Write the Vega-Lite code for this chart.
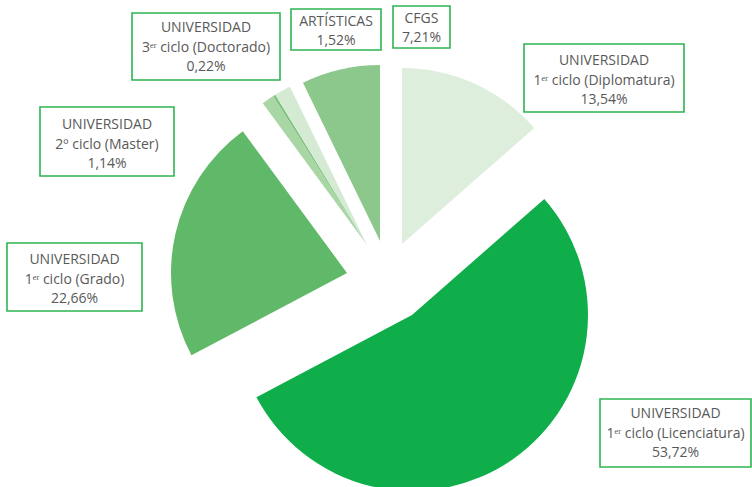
{
  "$schema": "https://vega.github.io/schema/vega-lite/v6.json",
  "width": 752,
  "height": 487,
  "padding": 0,
  "autosize": {"type": "none"},
  "background": "white",
  "config": {
    "view": {"stroke": null},
    "text": {"font": "Open Sans", "fontSize": 14, "color": "#595959"}
  },
  "data": {
    "values": [
      {"cat": "Diplomatura", "l1": "UNIVERSIDAD", "l2": "1ᵉʳ ciclo (Diplomatura)", "pct": 13.54, "order": 1},
      {"cat": "Licenciatura", "l1": "UNIVERSIDAD", "l2": "1ᵉʳ ciclo (Licenciatura)", "pct": 53.72, "order": 2},
      {"cat": "Grado", "l1": "UNIVERSIDAD", "l2": "1ᵉʳ ciclo (Grado)", "pct": 22.66, "order": 3},
      {"cat": "Master", "l1": "UNIVERSIDAD", "l2": "2º ciclo (Master)", "pct": 1.14, "order": 4},
      {"cat": "Doctorado", "l1": "UNIVERSIDAD", "l2": "3ᵉʳ ciclo (Doctorado)", "pct": 0.22, "order": 5},
      {"cat": "Artisticas", "l1": "ARTÍSTICAS", "l2": null, "pct": 1.52, "order": 6},
      {"cat": "CFGS", "l1": "CFGS", "l2": null, "pct": 7.21, "order": 7}
    ]
  },
  "transform": [
    {"stack": "pct", "groupby": [], "sort": [{"field": "order"}], "as": ["start", "end"]},
    {"calculate": "replace(format(datum.pct, '.2f'), '.', ',') + '%'", "as": "ptxt"},
    {"calculate": "datum.l2 ? [datum.l1, datum.l2, datum.ptxt] : [datum.l1, datum.ptxt]", "as": "label"}
  ],
  "encoding": {
    "color": {
      "field": "cat", "type": "nominal", "legend": null,
      "scale": {
        "domain": ["Diplomatura", "Licenciatura", "Grado", "Master", "Doctorado", "Artisticas", "CFGS"],
        "range": ["#ddeedd", "#0fae4b", "#60b968", "#a9d6a5", "#7cc27b", "#d5ead3", "#8cc78c"]
      }
    }
  },
  "layer": [
    {
      "transform": [{"filter": "datum.cat === 'Diplomatura'"}],
      "mark": {"type": "arc", "outerRadius": 176, "xOffset": 26, "yOffset": 0.5},
      "encoding": {
        "theta": {"field": "start", "type": "quantitative", "scale": {"domain": [0, 100.01], "range": [0, 6.283185]}},
        "theta2": {"field": "end"}
      }
    },
    {
      "transform": [{"filter": "datum.cat === 'Licenciatura'"}],
      "mark": {"type": "arc", "outerRadius": 176, "xOffset": 36, "yOffset": 71.5},
      "encoding": {
        "theta": {"field": "start", "type": "quantitative"},
        "theta2": {"field": "end"}
      }
    },
    {
      "transform": [{"filter": "datum.cat === 'Grado'"}],
      "mark": {"type": "arc", "outerRadius": 176, "xOffset": -29, "yOffset": 29.5},
      "encoding": {
        "theta": {"field": "start", "type": "quantitative"},
        "theta2": {"field": "end"}
      }
    },
    {
      "transform": [{"filter": "datum.cat === 'Master' || datum.cat === 'Doctorado' || datum.cat === 'Artisticas'"}],
      "mark": {"type": "arc", "outerRadius": 176, "xOffset": -9, "yOffset": 1.5},
      "encoding": {
        "theta": {"field": "start", "type": "quantitative"},
        "theta2": {"field": "end"}
      }
    },
    {
      "transform": [{"filter": "datum.cat === 'CFGS'"}],
      "mark": {"type": "arc", "outerRadius": 176, "xOffset": 4, "yOffset": -2.5},
      "encoding": {
        "theta": {"field": "start", "type": "quantitative"},
        "theta2": {"field": "end"}
      }
    },
    {
      "transform": [{"filter": "datum.cat === 'Diplomatura'"}],
      "layer": [
        {"mark": {"type": "rule", "x": 502, "y": 98, "x2": 524, "y2": 76, "color": "#1fb04f", "strokeWidth": 1.3}, "encoding": {}},
        {"mark": {"type": "rect", "x": 524, "y": 44, "x2": 684, "y2": 112, "fill": "white", "stroke": "#2eb551", "strokeWidth": 1.6}, "encoding": {}},
        {"mark": {"type": "text", "x": 604, "y": 61, "lineHeight": 19.5, "baseline": "middle", "align": "center"}, "encoding": {"text": {"field": "label"}, "color": {"value": "#595959"}}}
      ]
    },
    {
      "transform": [{"filter": "datum.cat === 'Licenciatura'"}],
      "layer": [
        {"mark": {"type": "rule", "x": 547, "y": 427, "x2": 600, "y2": 437, "color": "#1fb04f", "strokeWidth": 1.3}, "encoding": {}},
        {"mark": {"type": "rect", "x": 600, "y": 399, "x2": 751, "y2": 467, "fill": "white", "stroke": "#2eb551", "strokeWidth": 1.6}, "encoding": {}},
        {"mark": {"type": "text", "x": 675.5, "y": 414, "lineHeight": 19.5, "baseline": "middle", "align": "center"}, "encoding": {"text": {"field": "label"}, "color": {"value": "#595959"}}}
      ]
    },
    {
      "transform": [{"filter": "datum.cat === 'Grado'"}],
      "layer": [
        {"mark": {"type": "rule", "x": 142, "y": 277, "x2": 178, "y2": 230, "color": "#1fb04f", "strokeWidth": 1.3}, "encoding": {}},
        {"mark": {"type": "rect", "x": 7, "y": 243, "x2": 142, "y2": 311, "fill": "white", "stroke": "#2eb551", "strokeWidth": 1.6}, "encoding": {}},
        {"mark": {"type": "text", "x": 74.5, "y": 260, "lineHeight": 19.5, "baseline": "middle", "align": "center"}, "encoding": {"text": {"field": "label"}, "color": {"value": "#595959"}}}
      ]
    },
    {
      "transform": [{"filter": "datum.cat === 'Master'"}],
      "layer": [
        {"mark": {"type": "rule", "x": 174, "y": 141, "x2": 211, "y2": 115, "color": "#1fb04f", "strokeWidth": 1.3}, "encoding": {}},
        {"mark": {"type": "rule", "x": 211, "y": 115, "x2": 262, "y2": 107, "color": "#1fb04f", "strokeWidth": 1.3}, "encoding": {}},
        {"mark": {"type": "rect", "x": 40, "y": 107, "x2": 174, "y2": 176, "fill": "white", "stroke": "#2eb551", "strokeWidth": 1.6}, "encoding": {}},
        {"mark": {"type": "text", "x": 107, "y": 125, "lineHeight": 19.5, "baseline": "middle", "align": "center"}, "encoding": {"text": {"field": "label"}, "color": {"value": "#595959"}}}
      ]
    },
    {
      "transform": [{"filter": "datum.cat === 'Doctorado'"}],
      "layer": [
        {"mark": {"type": "rule", "x": 232, "y": 80, "x2": 277, "y2": 97, "color": "#1fb04f", "strokeWidth": 1.3}, "encoding": {}},
        {"mark": {"type": "rect", "x": 132, "y": 13, "x2": 280, "y2": 80, "fill": "white", "stroke": "#2eb551", "strokeWidth": 1.6}, "encoding": {}},
        {"mark": {"type": "text", "x": 206, "y": 28, "lineHeight": 19.5, "baseline": "middle", "align": "center"}, "encoding": {"text": {"field": "label"}, "color": {"value": "#595959"}}}
      ]
    },
    {
      "transform": [{"filter": "datum.cat === 'Artisticas'"}],
      "layer": [
        {"mark": {"type": "rule", "x": 322, "y": 51, "x2": 293, "y2": 87, "color": "#1fb04f", "strokeWidth": 1.3}, "encoding": {}},
        {"mark": {"type": "rect", "x": 291, "y": 9, "x2": 381, "y2": 50, "fill": "white", "stroke": "#2eb551", "strokeWidth": 1.6}, "encoding": {}},
        {"mark": {"type": "text", "x": 336, "y": 21.5, "lineHeight": 19.5, "baseline": "middle", "align": "center"}, "encoding": {"text": {"field": "label"}, "color": {"value": "#595959"}}}
      ]
    },
    {
      "transform": [{"filter": "datum.cat === 'CFGS'"}],
      "layer": [
        {"mark": {"type": "rule", "x": 418, "y": 48, "x2": 367, "y2": 66, "color": "#1fb04f", "strokeWidth": 1.3}, "encoding": {}},
        {"mark": {"type": "rect", "x": 393, "y": 6, "x2": 450, "y2": 48, "fill": "white", "stroke": "#2eb551", "strokeWidth": 1.6}, "encoding": {}},
        {"mark": {"type": "text", "x": 421.5, "y": 18.5, "lineHeight": 19, "baseline": "middle", "align": "center"}, "encoding": {"text": {"field": "label"}, "color": {"value": "#595959"}}}
      ]
    }
  ]
}
